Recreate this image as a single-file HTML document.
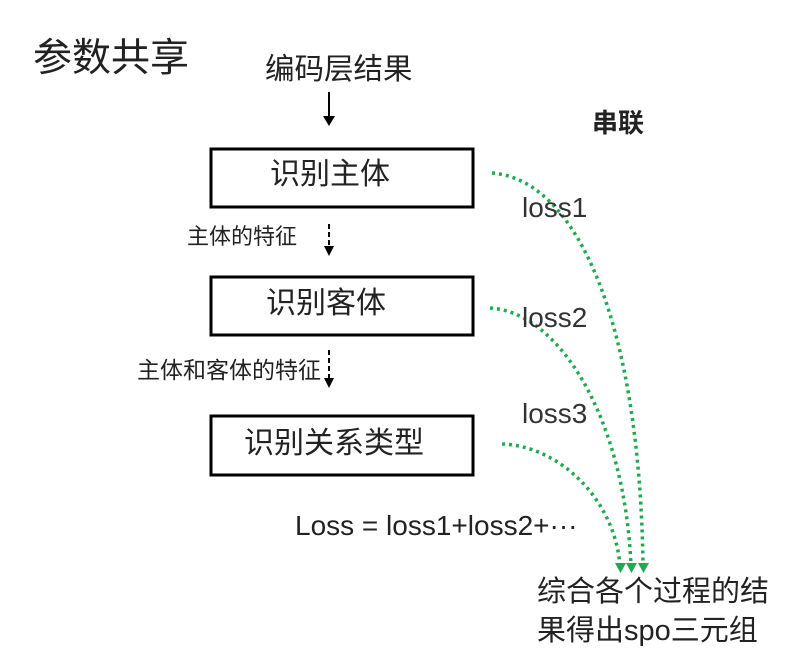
<!DOCTYPE html>
<html><head><meta charset="utf-8"><style>
html,body{margin:0;padding:0;background:#fff;}
body{width:802px;height:666px;position:relative;overflow:hidden;font-family:"Liberation Sans","Noto Sans CJK SC",sans-serif;color:#222;}
.t{position:absolute;white-space:nowrap;line-height:1;}
</style></head><body>
<svg width="802" height="666" style="position:absolute;left:0;top:0">
<rect x="211" y="149" width="262" height="58" fill="none" stroke="#000" stroke-width="3"/>
<rect x="211" y="277" width="262" height="58" fill="none" stroke="#000" stroke-width="3"/>
<rect x="211" y="416" width="262" height="59" fill="none" stroke="#000" stroke-width="3"/>
<line x1="329" y1="92" x2="329" y2="118" stroke="#000" stroke-width="2"/>
<path d="M323,116 L335,116 L329,126 z" fill="#000"/>
<line x1="329" y1="224" x2="329" y2="248" stroke="#000" stroke-width="2" stroke-dasharray="5,3"/>
<path d="M324,246 L334,246 L329,256 z" fill="#000"/>
<line x1="329" y1="350" x2="329" y2="380" stroke="#000" stroke-width="2" stroke-dasharray="5,3"/>
<path d="M324,378 L334,378 L329,388 z" fill="#000"/>
<g fill="none" stroke="#1faa50" stroke-width="3.5" stroke-dasharray="3,4">
<path d="M492,173 C580,180 640,330 643,566"/>
<path d="M490,308 C560,312 625,420 631,566"/>
<path d="M502,444 C560,446 615,500 620,566"/>
</g>
<path d="M615,563 L626,563 L620.5,573 z" fill="#1faa50"/>
<path d="M626,563 L637,563 L631.5,573 z" fill="#1faa50"/>
<path d="M638,563 L649,563 L643.5,573 z" fill="#1faa50"/>
</svg>
<div class="t" style="left:33px;top:39px;font-size:39px;">参数共享</div>
<div class="t" style="left:265px;top:55px;font-size:29.5px;">编码层结果</div>
<div class="t" style="left:592px;top:110px;font-size:26px;font-weight:bold;">串联</div>
<div class="t" style="left:270px;top:160px;font-size:30px;">识别主体</div>
<div class="t" style="left:187px;top:226px;font-size:22px;">主体的特征</div>
<div class="t" style="left:266px;top:289px;font-size:30px;">识别客体</div>
<div class="t" style="left:137px;top:359px;font-size:23px;">主体和客体的特征</div>
<div class="t" style="left:244px;top:429px;font-size:30px;">识别关系类型</div>
<div class="t" style="left:522px;top:194px;font-size:28px;color:#333;">loss1</div>
<div class="t" style="left:522px;top:304px;font-size:28px;color:#333;">loss2</div>
<div class="t" style="left:522px;top:400px;font-size:28px;color:#333;">loss3</div>
<div class="t" style="left:295px;top:512px;font-size:28px;color:#222;">Loss = loss1+loss2+···</div>
<div class="t" style="left:537px;top:578px;font-size:29px;">综合各个过程的结</div>
<div class="t" style="left:537px;top:617px;font-size:29px;">果得出spo三元组</div>
</body></html>
